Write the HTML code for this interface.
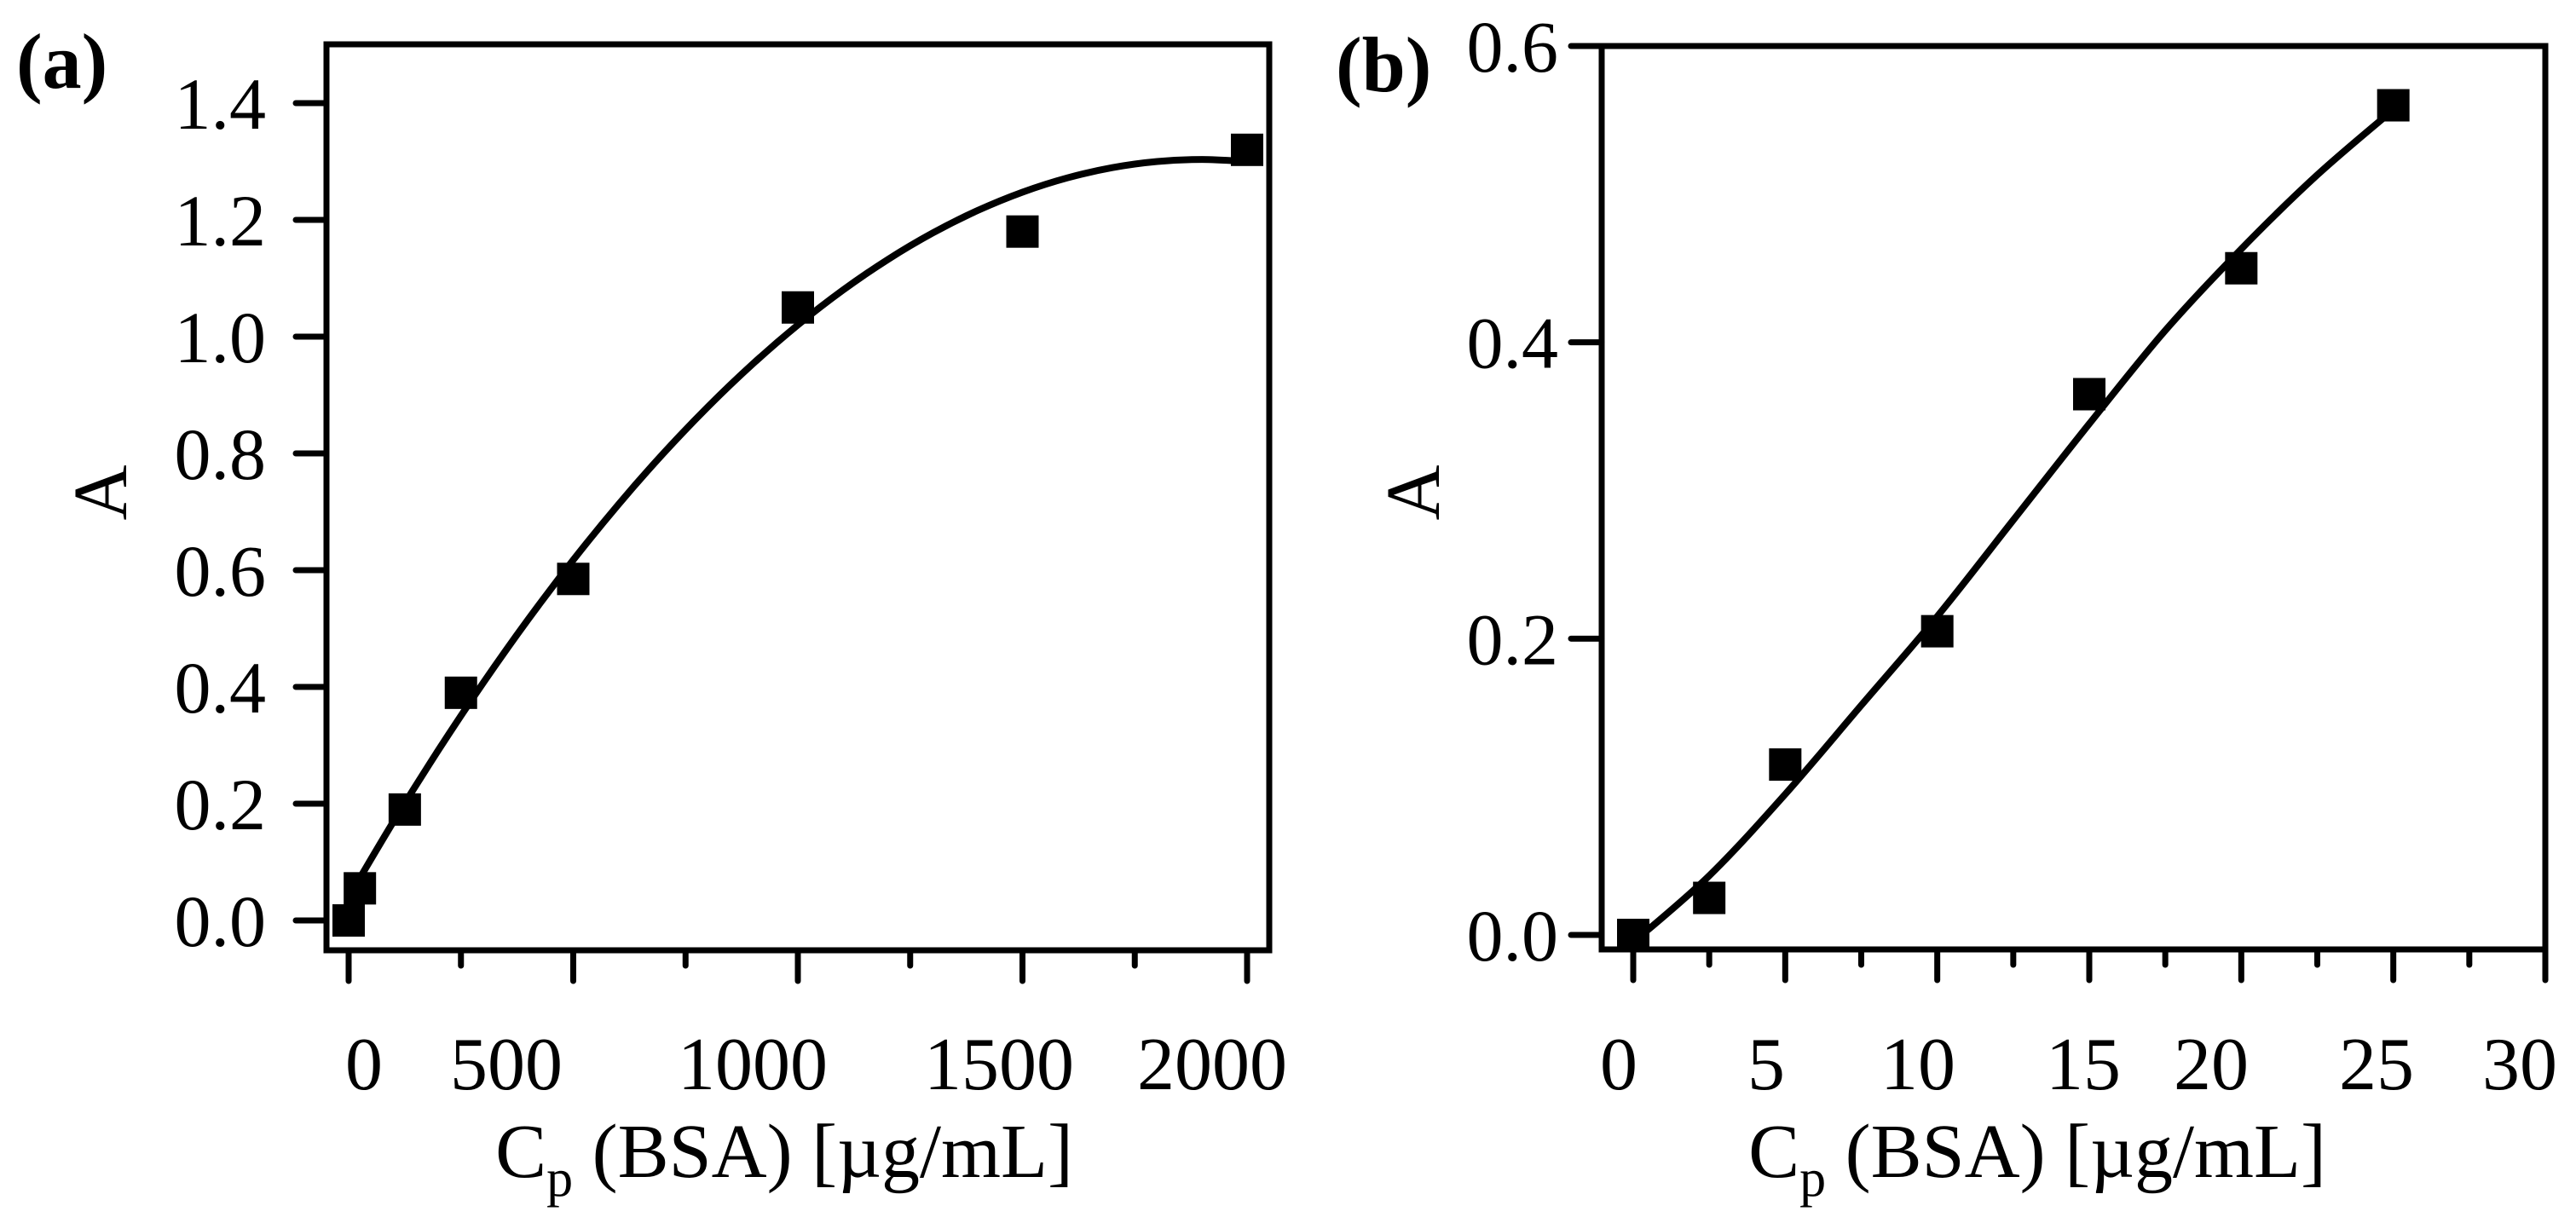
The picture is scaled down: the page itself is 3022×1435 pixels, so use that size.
<!DOCTYPE html>
<html><head><meta charset="utf-8"><style>
html,body{margin:0;padding:0;background:#fff;}
svg{display:block;font-family:"Liberation Serif",serif;}
</style></head><body>
<svg id="fig" width="3022" height="1435" viewBox="0 0 3022 1435" xmlns="http://www.w3.org/2000/svg">
<text x="19" y="103" font-size="92" font-weight="bold">(a)</text>
<text x="1567" y="107" font-size="92" font-weight="bold">(b)</text>
<g id="pa"></g>
<g id="pb"></g>
</svg>
<script>
// Panel A data
const aX = [0, 25, 125, 250, 500, 1000, 1500, 2000];
const aY = [0, 0.055, 0.19, 0.39, 0.585, 1.05, 1.18, 1.32];
const aFitCoef = [0.04, 0.00133, -3.5e-7];
const aXTicks = [0, 500, 1000, 1500, 2000];
const aXTickLabels = ["0", "500", "1000", "1500", "2000"];
const aYTicks = [0, 0.2, 0.4, 0.6, 0.8, 1.0, 1.2, 1.4];
const aYTickLabels = ["0.0", "0.2", "0.4", "0.6", "0.8", "1.0", "1.2", "1.4"];
// Panel B data
const bX = [0, 2.5, 5, 10, 15, 20, 25];
const bY = [0, 0.025, 0.115, 0.205, 0.365, 0.45, 0.56];
const bFitX = [0, 2.5, 5, 7.5, 10, 12.5, 15, 17.5, 20, 22.5, 25];
const bFitY = [-0.005, 0.04, 0.095, 0.155, 0.215, 0.28, 0.345, 0.408, 0.463, 0.513, 0.557];
const bXTicks = [0, 5, 10, 15, 20, 25, 30];
const bXTickLabels = ["0", "5", "10", "15", "20", "25", "30"];
const bYTicks = [0, 0.2, 0.4, 0.6];
const bYTickLabels = ["0.0", "0.2", "0.4", "0.6"];

const NS = "http://www.w3.org/2000/svg";
function mk(parent, tag, attrs){const e=document.createElementNS(NS,tag);for(const k in attrs)e.setAttribute(k,attrs[k]);parent.appendChild(e);return e;}

function panel(g, cfg){
  const sx = v => cfg.x0px + (v - cfg.xmin) * (cfg.x1px - cfg.x0px) / (cfg.xmax - cfg.xmin);
  const sy = v => cfg.y0px - (v - cfg.ymin) * (cfg.y0px - cfg.y1px) / (cfg.ymax - cfg.ymin);
  const fr = mk(g,'rect',{x:cfg.L,y:cfg.T,width:cfg.R-cfg.L,height:cfg.B-cfg.T,fill:'none',stroke:'#000','stroke-width':7});
  
  
  cfg.xt.forEach((v,i)=>{
    const t = mk(g,'line',{x1:sx(v),x2:sx(v),y1:cfg.B,y2:cfg.B+36,stroke:'#000','stroke-width':7,'stroke-linecap':'round'});
    
    
    const lab = mk(g,'text',{x:cfg.xlabX[i],y:1278,'font-size':88,'text-anchor':'middle'});
    lab.textContent = cfg.xtl[i];
    
    
    if(i < cfg.xt.length-1){
      const mv=(v+cfg.xt[i+1])/2;
      const m = mk(g,'line',{x1:sx(mv),x2:sx(mv),y1:cfg.B,y2:cfg.B+18,stroke:'#000','stroke-width':7,'stroke-linecap':'round'});
      
      
    }
  });
  cfg.yt.forEach((v,i)=>{
    const t = mk(g,'line',{x1:cfg.L-36,x2:cfg.L,y1:sy(v),y2:sy(v),stroke:'#000','stroke-width':7,'stroke-linecap':'round'});
    
    
    const lab = mk(g,'text',{x:cfg.ylabR,y:sy(v)+30,'font-size':86,'text-anchor':'end'});
    lab.textContent = cfg.ytl[i];
    
    
  });
  const pts = cfg.curve.map(p=>[sx(p[0]),sy(p[1])]);
  let d='M'+pts[0][0]+','+pts[0][1];
  for(let i=0;i<pts.length-1;i++){
    const p0=pts[Math.max(0,i-1)],p1=pts[i],p2=pts[i+1],p3=pts[Math.min(pts.length-1,i+2)];
    const c1=[p1[0]+(p2[0]-p0[0])/6,p1[1]+(p2[1]-p0[1])/6];
    const c2=[p2[0]-(p3[0]-p1[0])/6,p2[1]-(p3[1]-p1[1])/6];
    d+=' C'+c1[0]+','+c1[1]+' '+c2[0]+','+c2[1]+' '+p2[0]+','+p2[1];
  }
  const c = mk(g,'path',{d:d,fill:'none',stroke:'#000','stroke-width':8});
  
  
  cfg.px.forEach((v,i)=>{
    const s = mk(g,'rect',{x:sx(v)-19,y:sy(cfg.py[i])-19,width:38,height:38,fill:'#000'});
    
    
  });
  const xt = mk(g,'text',{x:cfg.titleX,y:1381,'font-size':90,'text-anchor':'middle'});
  xt.innerHTML='C<tspan font-size="62" dy="22">p</tspan><tspan dy="-22"> (BSA) [µg/mL]</tspan>';
  
  
  const yt = mk(g,'text',{x:0,y:0,'font-size':90,'text-anchor':'middle',transform:'translate('+(cfg.yTitleX)+',578) rotate(-90)'});
  yt.textContent='A';
  
  
}

const aCurve=[];
for(let x=0;x<=2000;x+=100){aCurve.push([x,aFitCoef[0]+aFitCoef[1]*x+aFitCoef[2]*x*x]);}
panel(document.getElementById('pa'),{
  L:383,R:1489,T:52,B:1115,
  xmin:0,xmax:2000,x0px:409,x1px:1463,
  ymin:0,ymax:1.4,y0px:1080,y1px:121,
  xt:aXTicks,xtl:aXTickLabels,xlabX:[427,594,883,1172,1422],
  yt:aYTicks,ytl:aYTickLabels,ylabR:312,
  curve:aCurve,px:aX,py:aY,titleX:920,yTitleX:148
});
panel(document.getElementById('pb'),{
  L:1879,R:2986,T:54,B:1114,
  xmin:0,xmax:30,x0px:1916,x1px:2986,
  ymin:0,ymax:0.6,y0px:1097,y1px:54,
  xt:bXTicks,xtl:bXTickLabels,xlabX:[1899,2072,2250,2444,2594,2788,2956],
  yt:bYTicks,ytl:bYTickLabels,ylabR:1828,
  curve:bFitX.map((x,i)=>[x,bFitY[i]]),px:bX,py:bY,titleX:2390,yTitleX:1688
});
</script>
</body></html>
